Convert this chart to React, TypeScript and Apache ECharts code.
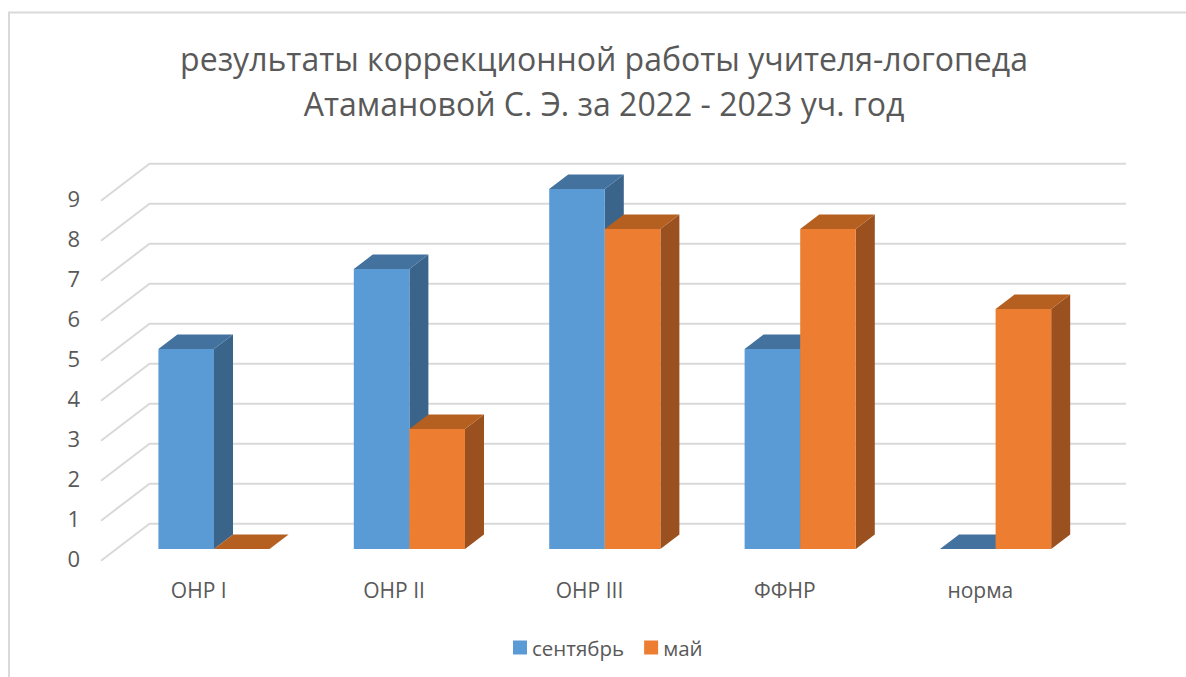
import React, { useEffect, useRef } from "react";
import * as echarts from "echarts";

const categories = ["ОНР I", "ОНР II", "ОНР III", "ФФНР", "норма"];
const september = [5, 7, 9, 5, 0];
const may = [0, 3, 8, 8, 6];
const yTicks = [0, 1, 2, 3, 4, 5, 6, 7, 8, 9];
const titleText = "результаты коррекционной работы учителя-логопеда\nАтамановой С. Э. за 2022 - 2023 уч. год";

const FONT = "'Open Sans', sans-serif";
const DX = 19;
const DY = 14.5;

function barRenderer(seriesIndex: number, front: string, side: string, top: string) {
  return (params: any, api: any) => {
    const idx = api.value(0);
    const val = api.value(1);
    const band = api.size([1, 0])[0];
    const w = band * 0.2845;
    const c = api.coord([idx, val]);
    const base = api.coord([idx, 0]);
    const x0 = seriesIndex === 0 ? c[0] - w : c[0];
    const x1 = x0 + w;
    const yT = c[1];
    const yB = base[1];
    const children: any[] = [];
    if (val > 0) {
      children.push({
        type: "polygon",
        shape: { points: [[x1, yT], [x1 + DX, yT - DY], [x1 + DX, yB - DY], [x1, yB]] },
        style: { fill: side },
      });
      children.push({
        type: "rect",
        shape: { x: x0, y: yT, width: w, height: yB - yT },
        style: { fill: front },
      });
    }
    children.push({
      type: "polygon",
      shape: { points: [[x0, yT], [x1, yT], [x1 + DX, yT - DY], [x0 + DX, yT - DY]] },
      style: { fill: top },
    });
    return { type: "group", children };
  };
}

function gridRenderer(params: any, api: any) {
  const v = api.value(0);
  const cs = params.coordSys;
  const y = api.coord([0, v])[1];
  return {
    type: "polyline",
    shape: {
      points: [
        [cs.x, y + 2.7],
        [cs.x + 48.5, y - 34.3],
        [cs.x + 1025, y - 34.3],
      ],
    },
    style: { stroke: "#d9d9d9", lineWidth: 2, fill: "none" },
    silent: true,
  };
}

export default function App() {
  const ref = useRef<HTMLDivElement>(null);
  useEffect(() => {
    const chart = echarts.init(ref.current!, undefined, { renderer: "svg" });
    chart.setOption({
      animation: false,
      backgroundColor: "#ffffff",
      color: ["#5b9bd5", "#ed7d31"],
      textStyle: { fontFamily: FONT },
      title: {
        text: titleText,
        left: 599,
        top: 31,
        textAlign: "center",
        textStyle: { fontFamily: FONT, fontSize: 32, fontWeight: "normal", color: "#595959", lineHeight: 45 },
      },
      legend: {
        left: 508,
        top: 632,
        itemWidth: 14,
        itemHeight: 14,
        itemGap: 20,
        icon: "rect",
        textStyle: { fontFamily: FONT, fontSize: 20.5, color: "#595959" },
        data: ["сентябрь", "май"],
      },
      grid: [
        { left: 116.3, top: 189, width: 977, height: 360 },
        { left: 101, top: 198, width: 977, height: 360 },
      ],
      xAxis: [
        { type: "category", gridIndex: 0, data: categories, axisLine: { show: false }, axisTick: { show: false }, axisLabel: { show: false } },
        {
          type: "category",
          gridIndex: 1,
          data: categories,
          axisLine: { show: false },
          axisTick: { show: false },
          axisLabel: { fontFamily: FONT, fontSize: 21, color: "#595959", margin: 21 },
        },
      ],
      yAxis: [
        { type: "value", gridIndex: 0, min: 0, max: 9, interval: 1, axisLine: { show: false }, axisTick: { show: false }, axisLabel: { show: false }, splitLine: { show: false } },
        {
          type: "value",
          gridIndex: 1,
          min: 0,
          max: 9,
          interval: 1,
          axisLine: { show: false },
          axisTick: { show: false },
          splitLine: { show: false },
          axisLabel: { fontFamily: FONT, fontSize: 22, color: "#595959", margin: 21, align: "right" },
        },
      ],
      graphic: [
        {
          type: "rect",
          z: -10,
          silent: true,
          shape: { x: 9, y: 12.5, width: 1300, height: 800 },
          style: { fill: "none", stroke: "#d9d9d9", lineWidth: 2 },
        },
      ],
      series: [
        {
          type: "custom",
          name: "gridlines",
          xAxisIndex: 1,
          yAxisIndex: 1,
          z: 1,
          renderItem: gridRenderer,
          data: yTicks.map((t) => [t]),
          encode: { y: 0 },
          silent: true,
        },
        {
          type: "custom",
          name: "сентябрь",
          xAxisIndex: 0,
          yAxisIndex: 0,
          z: 2,
          renderItem: barRenderer(0, "#5b9bd5", "#3a6489", "#43729e"),
          data: september.map((v, i) => [i, v]),
          encode: { x: 0, y: 1 },
          itemStyle: { color: "#5b9bd5" },
        },
        {
          type: "custom",
          name: "май",
          xAxisIndex: 0,
          yAxisIndex: 0,
          z: 3,
          renderItem: barRenderer(1, "#ed7d31", "#9a511f", "#b56020"),
          data: may.map((v, i) => [i, v]),
          encode: { x: 0, y: 1 },
          itemStyle: { color: "#ed7d31" },
        },
      ],
    });
    return () => chart.dispose();
  }, []);
  return <div ref={ref} style={{ position: "fixed", left: 0, top: 0, width: 1186, height: 677 }} />;
}
